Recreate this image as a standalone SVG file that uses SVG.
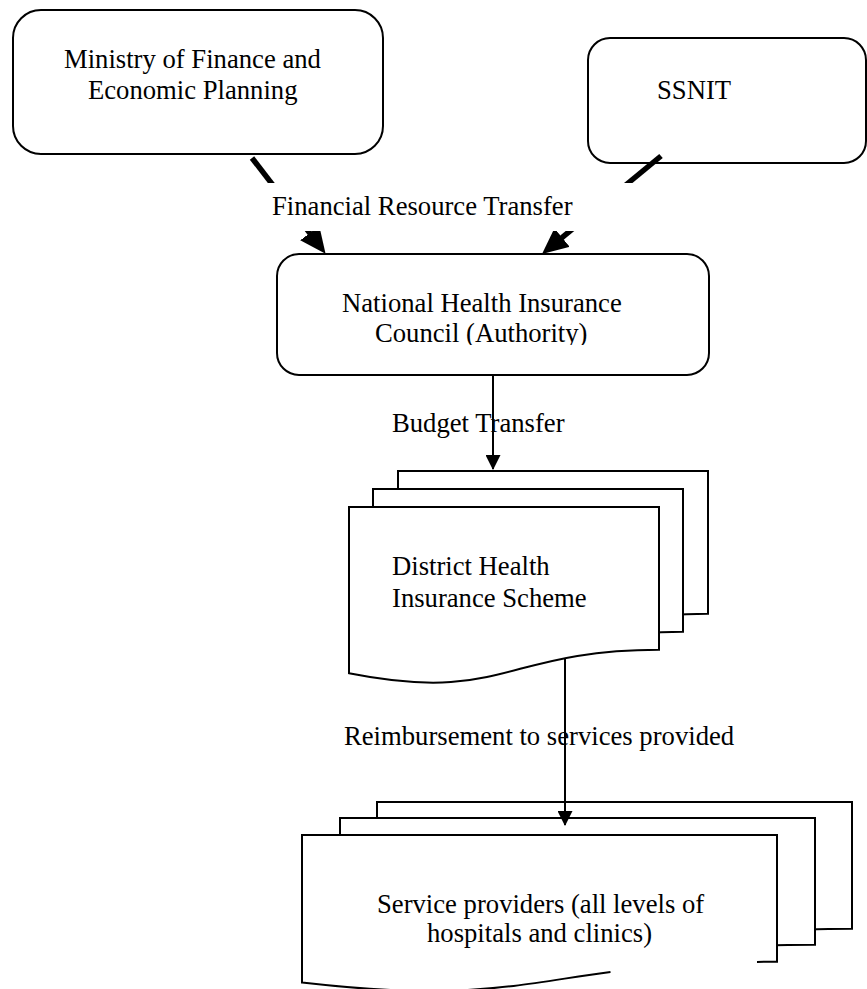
<svg xmlns="http://www.w3.org/2000/svg" width="867" height="989" viewBox="0 0 867 989">
<style>
  .box { fill: #ffffff; stroke: #000000; stroke-width: 2; }
  .doc { fill: #ffffff; stroke: #000000; stroke-width: 2; stroke-linejoin: miter; }
  .nostroke { fill: #ffffff; stroke: none; }
  .edge { fill: none; stroke: #000000; stroke-width: 2; }
  .t { font-family: "Liberation Serif", "Times New Roman", serif; font-size: 26.67px; fill: #000000; }
  .thick { fill: none; stroke: #000000; stroke-width: 5.5; }
  .thin { fill: none; stroke: #000000; stroke-width: 2; }
</style>
<defs>
  <marker id="headThick" markerUnits="userSpaceOnUse" markerWidth="26" markerHeight="24" viewBox="0 0 26 24" refX="8" refY="12" orient="auto">
    <path d="M0,0 L26,12 L0,24 Z" fill="#000000"/>
  </marker>
  <marker id="headThin" markerUnits="userSpaceOnUse" markerWidth="15" markerHeight="15" viewBox="0 0 15 15" refX="14" refY="7.5" orient="auto">
    <path d="M0,0 L15,7.5 L0,15 Z" fill="#000000"/>
  </marker>
  <clipPath id="nhicClip">
    <rect x="277" y="254" width="432" height="91"/>
  </clipPath>
</defs>

<rect width="867" height="989" fill="#ffffff"/>

<g id="ministry">
  <rect class="box" x="13" y="10" width="370" height="144" rx="28" ry="28"/>
  <text class="t" x="64" y="68">Ministry of Finance and</text>
  <text class="t" x="88" y="99">Economic Planning</text>
</g>

<g id="ssnit">
  <rect class="box" x="588" y="38" width="278" height="125" rx="22" ry="22"/>
  <text class="t" x="657" y="99">SSNIT</text>
</g>

<g id="nhic">
  <rect class="box" x="277" y="254" width="432" height="121" rx="22" ry="22"/>
  <g clip-path="url(#nhicClip)">
    <text class="t" x="342" y="312">National Health Insurance</text>
    <text class="t" x="375" y="342">Council (Authority)</text>
  </g>
</g>

<g id="dhis">
  <path class="doc" d="M398,471 H708 V613.8 C553,613.8 553,668 398,637.3 Z"/>
  <path class="doc" d="M373,489 H683 V631.8 C528,631.8 528,686 373,655.3 Z"/>
  <path class="doc" d="M349,507 H659 V649.8 C504,649.8 504,704 349,673.3 Z"/>
  <text class="t" x="392" y="575">District Health</text>
  <text class="t" x="392" y="607">Insurance Scheme</text>
</g>

<g id="providers">
  <path class="doc" d="M377,802 H852 V928.7 C614.5,928.7 614.5,977 377,949.6 Z"/>
  <path class="doc" d="M340,818 H815 V944.7 C577.5,944.7 577.5,993 340,965.6 Z"/>
  <path class="nostroke" d="M302,835 H777 V961.7 C539.5,961.7 539.5,1010 302,982.6 Z"/>
  <path class="edge" d="M757,961.9 L777,961.7 V835 H302 V982.6 C465.9,1001.5 516.7,984.4 610.5,971.9"/>
  <text class="t" x="377" y="913">Service providers (all levels of</text>
  <text class="t" x="427" y="942">hospitals and clinics)</text>
</g>

<g id="connectors">
  <line class="thick" x1="252" y1="158" x2="314.6" y2="239.4" marker-end="url(#headThick)"/>
  <line class="thick" x1="661" y1="156" x2="555.9" y2="242.6" marker-end="url(#headThick)"/>
  <rect x="240" y="183" width="400" height="48" fill="#ffffff"/>
  <text class="t" x="272" y="215">Financial Resource Transfer</text>
  <text class="t" x="392" y="432">Budget Transfer</text>
  <line class="thin" x1="493" y1="375" x2="493" y2="469" marker-end="url(#headThin)"/>
  <text class="t" x="344" y="745">Reimbursement to services provided</text>
  <line class="thin" x1="565" y1="658" x2="565" y2="825" marker-end="url(#headThin)"/>
</g>
</svg>
